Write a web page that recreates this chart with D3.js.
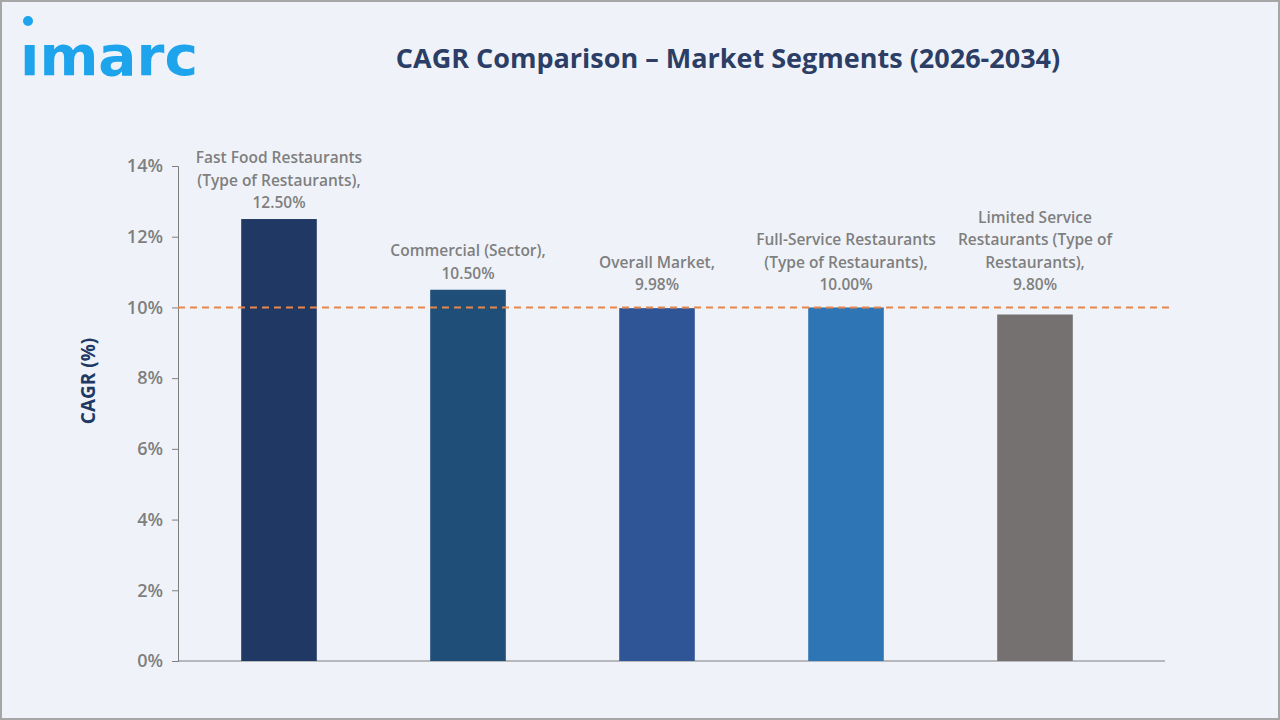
<!DOCTYPE html>
<html>
<head>
<meta charset="utf-8">
<script src="https://cdn.jsdelivr.net/npm/d3@7"></script>
<style>
  body { margin: 0; background: #eff3f9; }
  svg { display: block; }
</style>
</head>
<body>
<div id="chart"></div>
<script>
var svgWidth = 1280;
var svgHeight = 720;

// chart data
var segments = [
  ["Fast Food Restaurants", "(Type of Restaurants),"],
  ["Commercial (Sector),"],
  ["Overall Market,"],
  ["Full-Service Restaurants", "(Type of Restaurants),"],
  ["Limited Service", "Restaurants (Type of", "Restaurants),"]
];
var cagrValues = [12.5, 10.5, 9.98, 10.0, 9.8];
var valueLabels = ["12.50%", "10.50%", "9.98%", "10.00%", "9.80%"];
var barColors = ["#203864", "#1f4e79", "#2f5597", "#2e75b6", "#767171"];
var yTicks = [0, 2, 4, 6, 8, 10, 12, 14];
var referenceLine = 10;

var svg = d3.select("#chart")
  .append("svg")
  .attr("width", svgWidth)
  .attr("height", svgHeight);

// background + frame
svg.append("rect")
  .attr("x", 1).attr("y", 1)
  .attr("width", svgWidth - 2).attr("height", svgHeight - 2)
  .attr("fill", "#eff3f9")
  .attr("stroke", "#a6a6a6")
  .attr("stroke-width", 2);

// logo
svg.append("circle")
  .attr("cx", 28).attr("cy", 21).attr("r", 5)
  .attr("fill", "#1ea4ec");
svg.append("text")
  .attr("x", 20).attr("y", 75)
  .attr("textLength", 178)
  .attr("lengthAdjust", "spacingAndGlyphs")
  .style("font", "bold 56px 'DejaVu Sans'")
  .style("fill", "#1ea4ec")
  .text("ımarc");

// title
svg.append("text")
  .attr("x", 728).attr("y", 68)
  .attr("text-anchor", "middle")
  .style("font", "bold 27px 'Open Sans', sans-serif")
  .style("fill", "#2c3e66")
  .text("CAGR Comparison – Market Segments (2026-2034)");

// scales
var xScale = d3.scaleBand()
  .domain(d3.range(segments.length))
  .range([184.5, 1129.5])
  .paddingInner(0.6)
  .paddingOuter(0.3);

var yScale = d3.scaleLinear()
  .domain([0, 14])
  .range([661, 166]);

// y axis
var leftAxis = d3.axisLeft(yScale)
  .tickValues(yTicks)
  .tickSize(6)
  .tickFormat(d => d + "%");

var yAxisG = svg.append("g")
  .attr("transform", "translate(178, 0)")
  .call(leftAxis);
yAxisG.select(".domain").attr("stroke", "#7f7f7f");
yAxisG.selectAll(".tick line").attr("stroke", "#7f7f7f");
yAxisG.selectAll(".tick text")
  .attr("x", -15)
  .style("font", "600 18px 'Open Sans', sans-serif")
  .style("fill", "#7f7f7f");

// x baseline
svg.append("line")
  .attr("x1", 178).attr("x2", 1165)
  .attr("y1", yScale(0)).attr("y2", yScale(0))
  .attr("stroke", "#7f7f7f")
  .attr("stroke-width", 1.2);

// bars
svg.selectAll("rect.bar")
  .data(cagrValues)
  .enter()
  .append("rect")
  .attr("class", "bar")
  .attr("x", (d, i) => xScale(i))
  .attr("width", xScale.bandwidth())
  .attr("y", d => yScale(d))
  .attr("height", d => yScale(0) - yScale(d))
  .attr("fill", (d, i) => barColors[i]);

// reference line
svg.append("line")
  .attr("x1", 178).attr("x2", 1172)
  .attr("y1", yScale(referenceLine)).attr("y2", yScale(referenceLine))
  .attr("stroke", "#e7874d")
  .attr("stroke-width", 2)
  .attr("stroke-dasharray", "7,5");

// data labels (kept clear of the dashed line)
var labelGroups = svg.selectAll("g.label")
  .data(cagrValues)
  .enter()
  .append("g")
  .attr("class", "label");

labelGroups.each(function(d, i) {
  var lines = segments[i].concat([valueLabels[i]]);
  var cx = xScale(i) + xScale.bandwidth() / 2;
  var lastY = Math.min(yScale(d) - 16, yScale(referenceLine) - 22) + 5;
  d3.select(this).selectAll("text")
    .data(lines)
    .enter()
    .append("text")
    .attr("x", cx)
    .attr("y", (t, k) => lastY - (lines.length - 1 - k) * 22.5)
    .attr("text-anchor", "middle")
    .style("font", "600 15.5px 'Open Sans', sans-serif")
    .style("fill", "#7f7f7f")
    .text(t => t);
});

// y axis title
svg.append("text")
  .attr("transform", "translate(95, 381) rotate(-90)")
  .attr("text-anchor", "middle")
  .style("font", "bold 19px 'Open Sans', sans-serif")
  .style("fill", "#203864")
  .text("CAGR (%)");
</script>
</body>
</html>
